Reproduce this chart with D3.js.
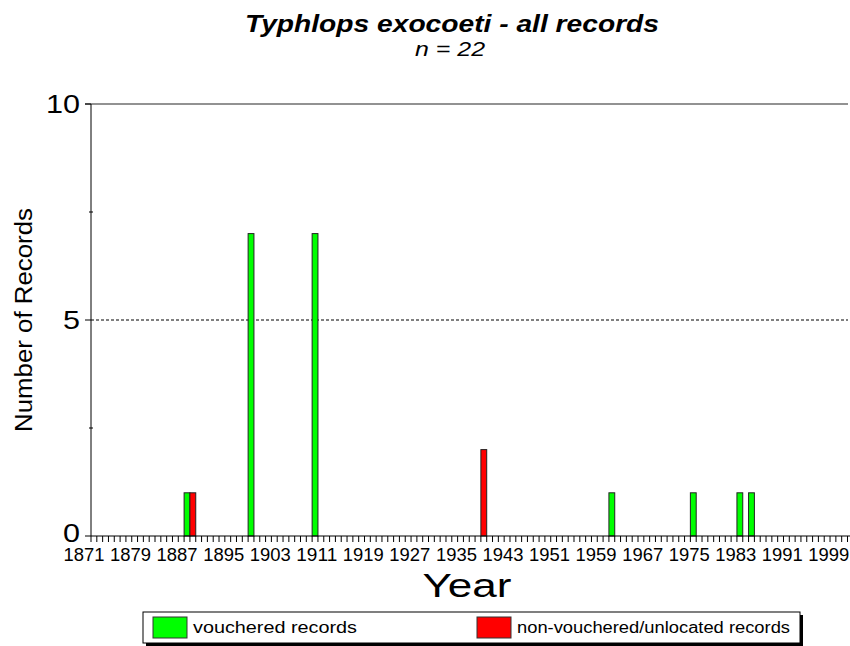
<!DOCTYPE html>
<html>
<head>
    <title>Typhlops exocoeti - all records</title>
    <script src="https://d3js.org/d3.v7.min.js"></script>
    <style>
        body { margin: 0; background: #fff; }
        text { font-family: "Liberation Sans", Arial, sans-serif; fill: #000; }
    </style>
</head>
<body>
    <svg width="850" height="646" id="mainSvg"></svg>
    <script>
        // data
        const years = d3.range(1871, 2001);
        const vouchered = [
            {year: 1887, n: 1}, {year: 1898, n: 7}, {year: 1909, n: 7},
            {year: 1960, n: 1}, {year: 1974, n: 1}, {year: 1982, n: 1}, {year: 1984, n: 1}
        ];
        const nonVouchered = [
            {year: 1888, n: 1}, {year: 1938, n: 2}
        ];
        const tickYears = d3.range(1871, 2001, 8);
        const yTicks = [0, 5, 10];
        const yMinorTicks = [2.5, 7.5];
        const legendLabels = ["vouchered records", "non-vouchered/unlocated records"];
        const colors = ["#00ff00", "#ff0000"];

        const svg = d3.select("#mainSvg");

        const x = d3.scaleBand().domain(years).range([91, 847.5]).padding(0);
        const y = d3.scaleLinear().domain([0, 10]).range([536, 104]);

        // title
        svg.append("text").attr("x", 452).attr("y", 32)
            .attr("text-anchor", "middle")
            .attr("font-size", 23).attr("font-weight", "bold").attr("font-style", "italic")
            .attr("textLength", 414).attr("lengthAdjust", "spacingAndGlyphs")
            .text("Typhlops exocoeti - all records");
        svg.append("text").attr("x", 450).attr("y", 56)
            .attr("text-anchor", "middle")
            .attr("font-size", 20).attr("font-style", "italic")
            .attr("textLength", 70).attr("lengthAdjust", "spacingAndGlyphs")
            .text("n = 22");

        // top line and gridline
        svg.append("line")
            .attr("x1", 85).attr("x2", 848).attr("y1", y(10)).attr("y2", y(10))
            .attr("stroke", "#6e6e6e").attr("stroke-width", 1.5);
        svg.append("line")
            .attr("x1", 91).attr("x2", 848).attr("y1", y(5)).attr("y2", y(5))
            .attr("stroke", "#000").attr("stroke-width", 1).attr("stroke-dasharray", "3,2");

        // bars
        const bars = svg.append("g");
        bars.selectAll("rect.v").data(vouchered).join("rect")
            .attr("class", "v")
            .attr("x", d => x(d.year)).attr("width", x.bandwidth())
            .attr("y", d => y(d.n)).attr("height", d => y(0) - y(d.n))
            .attr("fill", colors[0]).attr("stroke", "#222").attr("stroke-width", 1);
        bars.selectAll("rect.nv").data(nonVouchered).join("rect")
            .attr("class", "nv")
            .attr("x", d => x(d.year)).attr("width", x.bandwidth())
            .attr("y", d => y(d.n)).attr("height", d => y(0) - y(d.n))
            .attr("fill", colors[1]).attr("stroke", "#222").attr("stroke-width", 1);

        // y axis
        const yAxis = svg.append("g");
        yAxis.append("line").attr("x1", 91).attr("x2", 91).attr("y1", y(10)).attr("y2", y(0))
            .attr("stroke", "#000");
        yAxis.selectAll("line.major").data(yTicks).join("line")
            .attr("class", "major")
            .attr("x1", 85).attr("x2", 91).attr("y1", d => y(d)).attr("y2", d => y(d))
            .attr("stroke", "#000");
        yAxis.selectAll("line.minor").data(yMinorTicks).join("line")
            .attr("class", "minor")
            .attr("x1", 89).attr("x2", 93).attr("y1", d => y(d)).attr("y2", d => y(d))
            .attr("stroke", "#000");
        yAxis.selectAll("text").data(yTicks).join("text")
            .attr("x", 80).attr("y", d => y(d) + (d === 0 ? 6 : 9))
            .attr("text-anchor", "end").attr("font-size", 25)
            .attr("textLength", d => String(d).length * 17).attr("lengthAdjust", "spacingAndGlyphs")
            .text(d => d);
        svg.append("text")
            .attr("transform", "translate(32,320) rotate(-90)")
            .attr("text-anchor", "middle").attr("font-size", 23)
            .attr("textLength", 224).attr("lengthAdjust", "spacingAndGlyphs")
            .text("Number of Records");

        // x axis
        const xAxis = svg.append("g");
        xAxis.append("line").attr("x1", 91).attr("x2", 850).attr("y1", y(0)).attr("y2", y(0))
            .attr("stroke", "#000");
        xAxis.selectAll("line.tick").data(years.concat([2001])).join("line")
            .attr("class", "tick")
            .attr("x1", d => d === 2001 ? x(2000) + x.bandwidth() : x(d))
            .attr("x2", d => d === 2001 ? x(2000) + x.bandwidth() : x(d))
            .attr("y1", y(0)).attr("y2", y(0) + 6)
            .attr("stroke", "#000");
        xAxis.selectAll("text").data(tickYears).join("text")
            .attr("x", d => x(d) - 7)
            .attr("y", 561)
            .attr("text-anchor", "middle").attr("font-size", 18)
            .attr("textLength", 41).attr("lengthAdjust", "spacingAndGlyphs")
            .text(d => d);
        svg.append("text").attr("x", 467).attr("y", 597)
            .attr("text-anchor", "middle").attr("font-size", 34)
            .attr("textLength", 89).attr("lengthAdjust", "spacingAndGlyphs")
            .text("Year");

        // legend
        const legend = svg.append("g");
        legend.append("rect").attr("x", 146).attr("y", 615).attr("width", 657).attr("height", 31)
            .attr("fill", "#000");
        legend.append("rect").attr("x", 143).attr("y", 612).attr("width", 657).attr("height", 31)
            .attr("fill", "#fff").attr("stroke", "#000");
        const items = legend.selectAll("g.item").data(legendLabels).join("g")
            .attr("class", "item")
            .attr("transform", (d, i) => `translate(${i === 0 ? 153 : 477},617)`);
        items.append("rect").attr("width", 34).attr("height", 21)
            .attr("fill", (d, i) => colors[i]).attr("stroke", "#333");
        items.append("text").attr("x", 40).attr("y", 16)
            .attr("font-size", 16)
            .attr("textLength", (d, i) => i === 0 ? 164 : 273).attr("lengthAdjust", "spacingAndGlyphs")
            .text(d => d);
    </script>
</body>
</html>
